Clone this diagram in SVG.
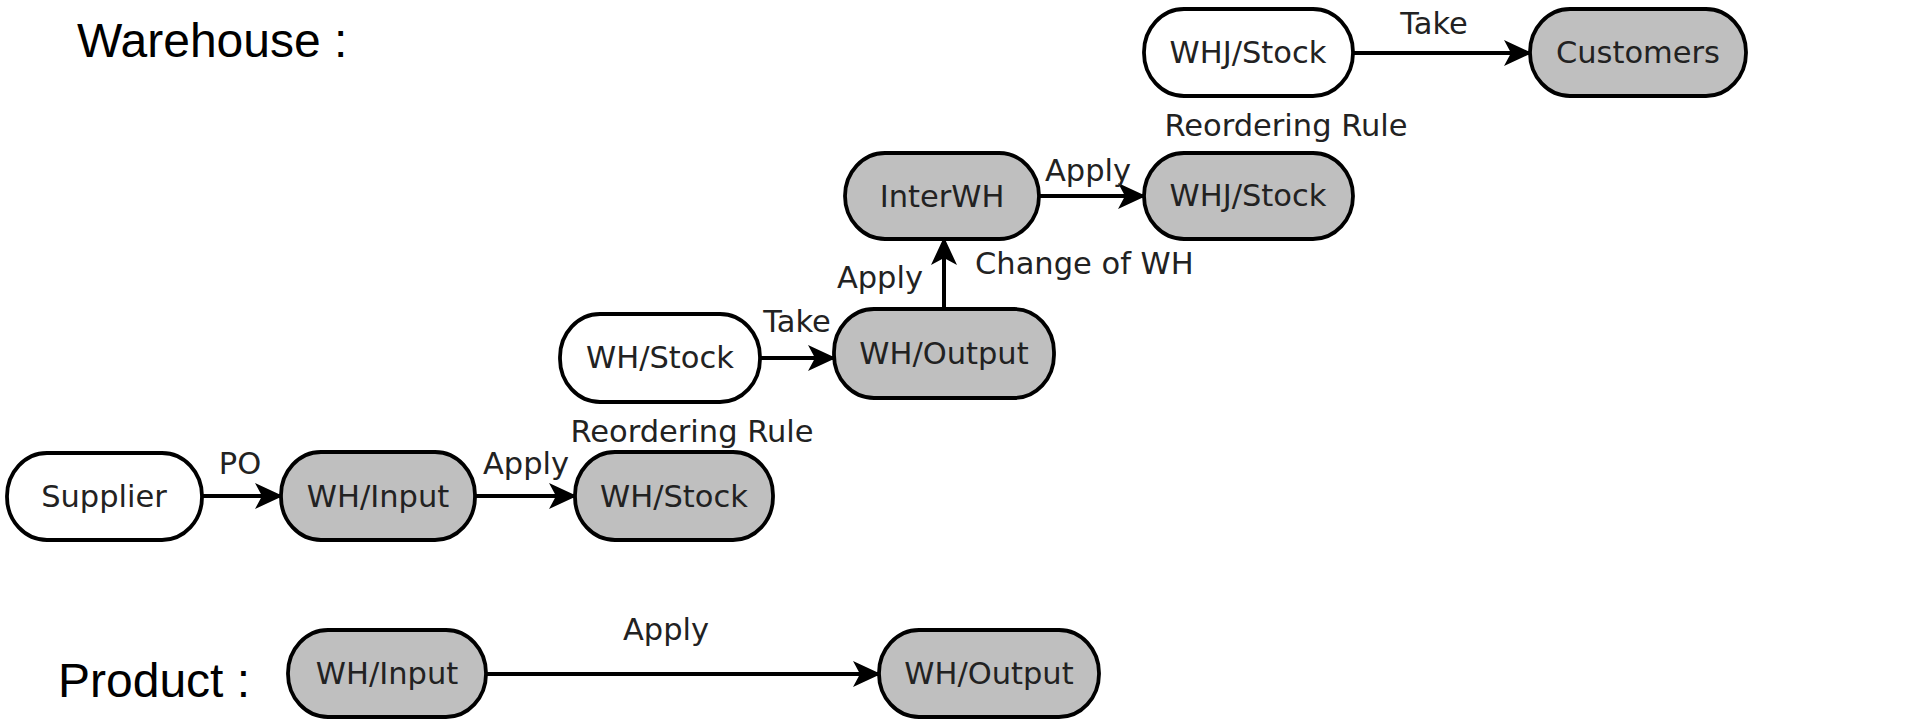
<svg xmlns="http://www.w3.org/2000/svg" width="1915" height="720" viewBox="0 0 1915 720">
<style>
.n{stroke:#000;stroke-width:3.8}
.w{fill:#fff}
.g{fill:#bfbfbf}
.t{font-family:"DejaVu Sans",sans-serif;font-size:30.5px;fill:#222;text-anchor:middle}
.e{stroke:#000;stroke-width:4;fill:none;marker-end:url(#ah)}
.h{font-family:"Liberation Sans",Arial,sans-serif;font-size:48px;fill:#000}
</style>
<defs>
<marker id="ah" markerUnits="userSpaceOnUse" markerWidth="28" markerHeight="28" refX="26" refY="14" orient="auto">
<path d="M0,1 L28,14 L0,27 L7,14 Z" fill="#000"/>
</marker>
</defs>
<rect width="1915" height="720" fill="#fff"/>
<text class="h" x="77" y="57">Warehouse :</text>
<text class="h" x="58" y="697">Product :</text>
<g id="connectors">
<line class="e" x1="202" y1="496" x2="281" y2="496"/>
<line class="e" x1="475" y1="496" x2="575" y2="496"/>
<line class="e" x1="760" y1="358" x2="834" y2="358"/>
<line class="e" x1="944" y1="309" x2="944" y2="239"/>
<line class="e" x1="1039" y1="196" x2="1144" y2="196"/>
<line class="e" x1="1353" y1="53" x2="1530" y2="53"/>
<line class="e" x1="486" y1="674" x2="879" y2="674"/>
<text class="t" x="240" y="474">PO</text>
<text class="t" x="526" y="474">Apply</text>
<text class="t" x="692" y="442">Reordering Rule</text>
<text class="t" x="797" y="332">Take</text>
<text class="t" x="923" y="288" style="text-anchor:end">Apply</text>
<text class="t" x="975" y="274" style="text-anchor:start">Change of WH</text>
<text class="t" x="1088" y="181">Apply</text>
<text class="t" x="1286" y="136">Reordering Rule</text>
<text class="t" x="1434" y="34">Take</text>
<text class="t" x="666" y="640">Apply</text>
</g>
<g id="supplier"><rect class="n w" x="7" y="453" width="195" height="87" rx="40" ry="43"/><text class="t" x="104" y="507">Supplier</text></g>
<g id="wh-input"><rect class="n g" x="281" y="452" width="194" height="88" rx="40" ry="43"/><text class="t" x="378" y="507">WH/Input</text></g>
<g id="wh-stock"><rect class="n g" x="575" y="452" width="198" height="88" rx="40" ry="43"/><text class="t" x="674" y="507">WH/Stock</text></g>
<g id="wh-stock-src"><rect class="n w" x="560" y="314" width="200" height="88" rx="40" ry="43"/><text class="t" x="660" y="368">WH/Stock</text></g>
<g id="wh-output"><rect class="n g" x="834" y="309" width="220" height="89" rx="40" ry="43"/><text class="t" x="944" y="364">WH/Output</text></g>
<g id="interwh"><rect class="n g" x="845" y="153" width="194" height="86" rx="40" ry="43"/><text class="t" x="942" y="207">InterWH</text></g>
<g id="whj-stock"><rect class="n g" x="1144" y="153" width="209" height="86" rx="40" ry="43"/><text class="t" x="1248" y="206">WHJ/Stock</text></g>
<g id="whj-stock-src"><rect class="n w" x="1144" y="9" width="209" height="87" rx="40" ry="43"/><text class="t" x="1248" y="63">WHJ/Stock</text></g>
<g id="customers"><rect class="n g" x="1530" y="9" width="216" height="87" rx="40" ry="43"/><text class="t" x="1638" y="63">Customers</text></g>
<g id="p-wh-input"><rect class="n g" x="288" y="630" width="198" height="87" rx="40" ry="43"/><text class="t" x="387" y="684">WH/Input</text></g>
<g id="p-wh-output"><rect class="n g" x="879" y="630" width="220" height="87" rx="40" ry="43"/><text class="t" x="989" y="684">WH/Output</text></g>
</svg>
